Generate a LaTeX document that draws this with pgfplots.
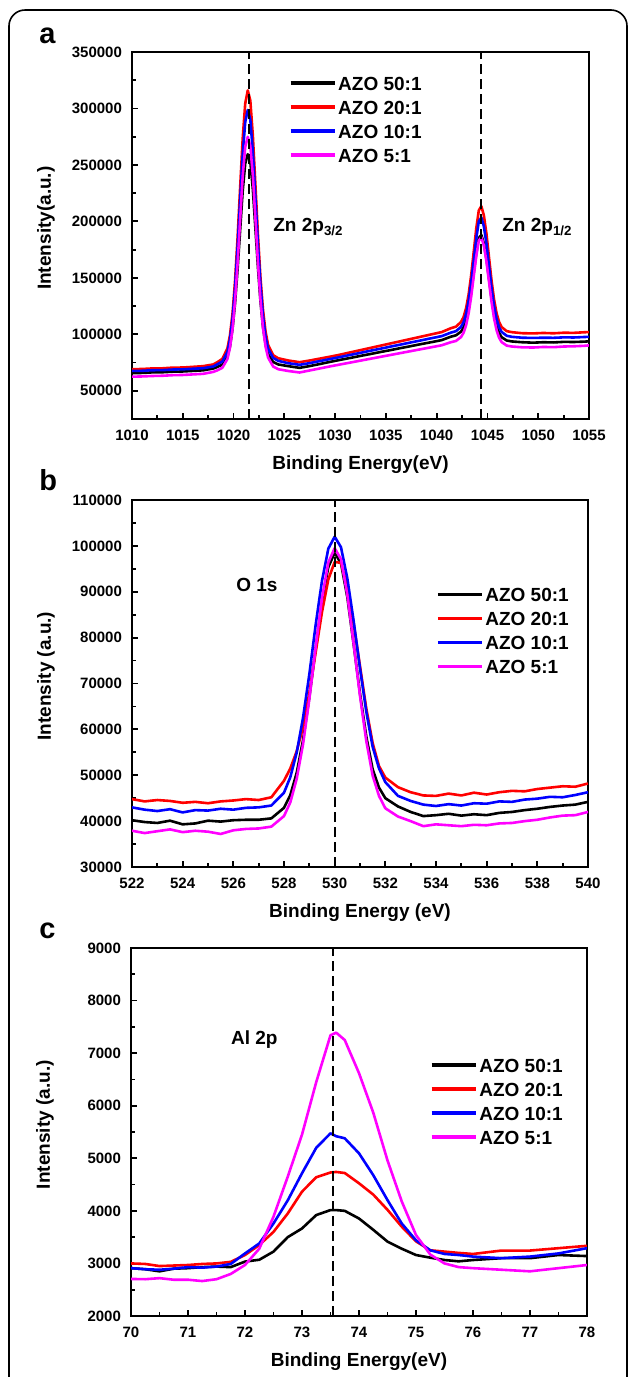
\documentclass[border=0pt]{standalone}
\usepackage{fontspec}
\setmainfont{Liberation Sans}
\usepackage{pgfplots}
\usepackage{pgfplotstable}
\pgfplotsset{compat=1.18}

\definecolor{cR}{RGB}{255,0,0}
\definecolor{cB}{RGB}{0,0,255}
\definecolor{cM}{RGB}{255,0,255}

\pgfplotstableread{
E k r b m
1010 65700 69100 67600 62500
1011 65800 69300 67700 62700
1012 66300 69800 68200 63100
1013 66400 69900 68300 63300
1014 66900 70500 68800 63800
1015 67100 70600 69000 64000
1016 67600 71200 69500 64500
1017 68100 71800 70000 65000
1018 69700 73300 71500 66700
1018.4 71100 75300 73400 68100
1018.9 73200 78300 76000 70400
1019.4 80300 87600 84500 78200
1019.65 89400 99300 95600 88400
1019.9 104900 118500 113700 104800
1020.15 127800 147600 141200 129800
1020.4 158000 186000 177200 163000
1020.65 192400 230100 218900 201800
1020.9 226900 273400 259300 239900
1021.15 251300 304400 288000 266000
1021.4 259500 316000 298700 274900
1021.65 252800 307000 290300 266800
1021.9 228400 276000 261600 240700
1022.15 193900 232700 221200 202600
1022.4 159500 188600 180000 163800
1022.65 129300 150200 144000 130600
1022.9 106400 121600 116000 105600
1023.15 91400 102400 97900 89200
1023.4 82300 90700 87300 79400
1023.9 75500 81500 79100 71500
1024.4 73300 78800 76500 69100
1025.4 71800 76800 74400 67500
1026.5 70300 75300 73000 66200
1027.5 71900 76800 74500 68000
1028.5 73700 78500 76300 69800
1029.5 75600 80200 78100 71600
1030.5 77400 82000 79900 73300
1031.5 79100 84000 81800 75000
1032.5 80900 86000 83600 76700
1033.5 82600 88000 85500 78400
1034.5 84400 90000 87300 80100
1035.5 86100 92000 89200 81800
1036.5 87900 94000 91000 83500
1037.5 89600 96000 92900 85200
1038.5 91400 98000 94700 86900
1039.5 93100 100000 96600 88600
1040.5 94900 102000 98400 90300
1041.4 97900 105400 101500 93000
1041.9 99100 106800 102800 94100
1042.4 102400 110900 106600 97600
1042.65 106200 115300 110700 101400
1042.9 112800 123200 118200 108200
1043.15 123000 135400 129700 118700
1043.4 137300 152400 145800 133500
1043.65 154600 173000 165300 151300
1043.9 172000 193700 184900 169200
1044.15 185400 209700 200000 183000
1044.4 188000 213500 203500 186000
1044.65 180400 205200 195500 178500
1044.9 167000 189200 180400 164700
1045.15 149600 168500 160800 146800
1045.4 132300 147900 141300 129000
1045.65 118000 130900 125200 114200
1045.9 107800 118700 113700 103700
1046.15 101200 110800 106200 96900
1046.4 97400 106400 102100 93100
1046.9 94500 102800 98700 90000
1047.4 93700 101900 97800 89200
1048.4 93000 101000 97000 88500
1049.5 92600 100800 96800 88300
1050.5 93000 101200 97000 88800
1051.5 92800 100900 96900 88600
1052.5 93300 101400 97300 89200
1053.5 93200 101300 97200 89400
1054.5 93500 101800 97600 89800
1055 93800 102000 97800 90200
}\dataA

\pgfplotstableread{
E k r b m
522 40200 44800 43000 37900
522.5 39800 44300 42500 37400
523 39600 44600 42200 37800
523.5 40100 44400 42600 38200
524 39300 44000 41900 37600
524.5 39500 44200 42400 37900
525 40100 43900 42300 37700
525.5 39900 44300 42700 37200
526 40200 44500 42500 38000
526.5 40300 44800 42900 38300
527 40300 44600 43000 38400
527.5 40600 45200 43400 38800
528 42900 48800 46200 41100
528.25 45700 51500 49600 44100
528.5 50500 55200 54900 49200
528.75 57600 60500 62500 56700
529 67000 67900 72000 66600
529.25 77700 76800 82800 77900
529.5 88000 85600 92400 88600
529.75 95400 92700 99400 96400
530 98500 96500 102000 99500
530.25 96200 96300 99700 97100
530.5 88800 91000 92900 89300
530.75 78500 83000 83600 78600
531 67800 73800 73300 67300
531.25 58400 64500 63800 57400
531.5 51300 57000 56200 49900
531.75 47300 52000 51500 45500
532 45000 49500 48500 42800
532.5 43200 47400 45500 41000
533 42000 46300 44400 40000
533.5 41100 45600 43600 38900
534 41300 45500 43300 39300
534.5 41600 46000 43700 39100
535 41200 45600 43400 38900
535.5 41500 46200 43900 39200
536 41300 45800 43800 39100
536.5 41800 46300 44300 39500
537 42000 46600 44200 39600
537.5 42400 46500 44700 40000
538 42700 47000 44900 40300
538.5 43100 47300 45300 40800
539 43400 47600 45200 41200
539.5 43600 47500 45700 41300
540 44200 48200 46300 42000
}\dataB

\pgfplotstableread{
E k r b m
70 2910 3000 2910 2705
70.25 2890 2990 2890 2700
70.5 2850 2950 2880 2720
70.75 2900 2960 2900 2690
71 2910 2970 2930 2690
71.25 2930 2990 2920 2665
71.5 2940 3000 2940 2700
71.75 2930 3030 2990 2800
72 3035 3160 3190 2970
72.25 3070 3350 3380 3280
72.5 3225 3600 3760 3890
72.75 3500 3950 4200 4650
73 3665 4365 4715 5450
73.25 3920 4640 5200 6450
73.5 4015 4730 5475 7340
73.6 4015 4740 5420 7390
73.75 4000 4720 5380 7250
74 3855 4525 5095 6620
74.25 3640 4310 4680 5870
74.5 3415 4020 4205 4960
74.75 3280 3700 3760 4180
75 3160 3420 3440 3540
75.25 3110 3250 3250 3170
75.5 3065 3225 3180 3000
75.75 3040 3200 3160 2930
76 3065 3180 3130 2910
76.5 3100 3245 3100 2880
77 3100 3245 3130 2850
77.5 3160 3290 3190 2910
78 3140 3335 3290 2970
}\dataC

\tikzset{
  lab/.style={font=\fontsize{9.5}{11}\selectfont\bfseries, anchor=base west, inner sep=0pt},
}

\pgfplotsset{
  azo/.style={
    scale only axis,
    anchor=north west,
    axis line style={line width=1.3pt},
    every tick/.style={line width=0.9pt, black},
    major tick length=3pt,
    minor tick length=1.8pt,
    xtick pos=bottom, ytick pos=left,
    tick align=inside,
    minor x tick num=1, minor y tick num=1,
    scaled x ticks=false, scaled y ticks=false,
    /pgf/number format/assume math mode=true,
    /pgf/number format/1000 sep={},
    /pgf/number format/fixed,
    ticklabel style={font=\fontsize{7.5}{9}\selectfont\bfseries},
    xticklabel style={yshift=-2pt},
    yticklabel style={xshift=-1.5pt},
    every axis x label/.style={at={([yshift=-23pt]axis description cs:0.5,0)}, anchor=center, font=\fontsize{9.5}{11}\selectfont\bfseries},
    every axis y label/.style={at={([xshift=-43pt]axis description cs:0,0.52)}, rotate=90, anchor=center, font=\fontsize{9.5}{11}\selectfont\bfseries},
    legend style={draw=none, fill=none, inner sep=0pt, outer sep=0pt,
      font=\fontsize{9.5}{11}\selectfont\bfseries, row sep=3pt,
      nodes={inner sep=1pt, text height=7pt, text depth=0pt}},
    legend cell align=left,
    legend image code/.code={\draw[line width=1.6pt] (0pt,0pt) -- (22pt,0pt);},
    every axis plot/.append style={line width=1.3pt, line join=round, mark=none},
  },
  dashref/.style={black, line width=0.9pt, dash pattern=on 5pt off 2.5pt, forget plot},
}

\begin{document}
\begin{tikzpicture}
\path[use as bounding box] (0,0) rectangle (315pt,-688.5pt);
\draw[line width=0.8pt, rounded corners=8pt] (4.5pt,-692pt) -- (4.5pt,-5pt) -- (313.5pt,-5pt) -- (313.5pt,-692pt);

\node[anchor=base west, inner sep=0pt, font=\fontsize{14.5}{16}\selectfont\bfseries] at (19.5pt,-21.5pt) {a};
\node[anchor=base west, inner sep=0pt, font=\fontsize{14.5}{16}\selectfont\bfseries] at (19.5pt,-245pt) {b};
\node[anchor=base west, inner sep=0pt, font=\fontsize{14.5}{16}\selectfont\bfseries] at (19.5pt,-469pt) {c};

% Panel a
\begin{axis}[azo, at={(66pt,-26pt)}, width=228.5pt, height=183.5pt,
  xmin=1010, xmax=1055, ymin=25000, ymax=350000,
  xtick={1010,1015,1020,1025,1030,1035,1040,1045,1050,1055},
  ytick={50000,100000,150000,200000,250000,300000,350000},
  xlabel={Binding Energy(eV)}, ylabel={Intensity(a.u.)},
  legend style={at={(0.3435,0.94)}, anchor=north west}]
\addplot[black] table[x=E,y=k]{\dataA};
\addplot[cR] table[x=E,y=r]{\dataA};
\addplot[cB] table[x=E,y=b]{\dataA};
\addplot[cM] table[x=E,y=m]{\dataA};
\legend{AZO 50:1, AZO 20:1, AZO 10:1, AZO 5:1}
\addplot[dashref] coordinates {(1021.5,25000) (1021.5,350000)};
\addplot[dashref] coordinates {(1044.4,25000) (1044.4,350000)};
\node[lab] at (axis cs:1023.88,190700) {Zn 2p\textsubscript{3/2}};
\node[lab] at (axis cs:1046.43,190700) {Zn 2p\textsubscript{1/2}};
\end{axis}

% Panel b
\begin{axis}[azo, at={(66pt,-250pt)}, width=228pt, height=183.5pt,
  xmin=522, xmax=540, ymin=30000, ymax=110000,
  xtick={522,524,526,528,530,532,534,536,538,540},
  ytick={30000,40000,50000,60000,70000,80000,90000,100000,110000},
  xlabel={Binding Energy (eV)}, ylabel={Intensity (a.u.)},
  legend style={at={(0.667,0.766)}, anchor=north west}]
\addplot[black] table[x=E,y=k]{\dataB};
\addplot[cR] table[x=E,y=r]{\dataB};
\addplot[cB] table[x=E,y=b]{\dataB};
\addplot[cM] table[x=E,y=m]{\dataB};
\legend{AZO 50:1, AZO 20:1, AZO 10:1, AZO 5:1}
\addplot[dashref] coordinates {(530,30000) (530,110000)};
\node[lab] at (axis cs:526.1,90160) {O 1s};
\end{axis}

% Panel c
\begin{axis}[azo, at={(65.5pt,-474pt)}, width=228pt, height=184pt,
  xmin=70, xmax=78, ymin=2000, ymax=9000,
  xtick={70,71,72,73,74,75,76,77,78},
  ytick={2000,3000,4000,5000,6000,7000,8000,9000},
  xlabel={Binding Energy(eV)}, ylabel={Intensity (a.u.)},
  legend style={at={(0.656,0.7065)}, anchor=north west}]
\addplot[black] table[x=E,y=k]{\dataC};
\addplot[cR] table[x=E,y=r]{\dataC};
\addplot[cB] table[x=E,y=b]{\dataC};
\addplot[cM] table[x=E,y=m]{\dataC};
\legend{AZO 50:1, AZO 20:1, AZO 10:1, AZO 5:1}
\addplot[dashref] coordinates {(73.55,2000) (73.55,9000)};
\node[lab] at (axis cs:71.75,7174) {Al 2p};
\end{axis}
\end{tikzpicture}
\end{document}
